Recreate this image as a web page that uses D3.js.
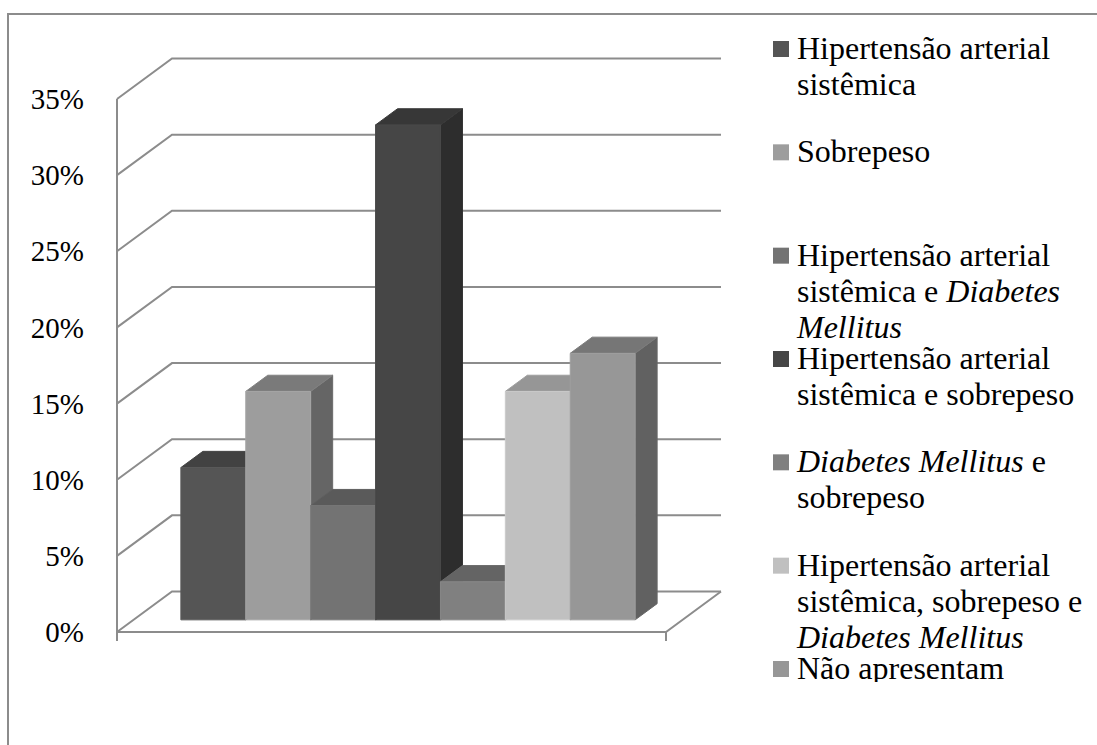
<!DOCTYPE html>
<html>
<head>
<meta charset="utf-8">
<script src="https://cdn.jsdelivr.net/npm/d3@7"></script>
<style>
  body { margin: 0; background: #fff; }
  svg { display: block; }
  svg text { font-family: "Liberation Serif", Tinos, "Times New Roman", Times, "DejaVu Serif", serif; fill: #000; }
</style>
</head>
<body>
<svg id="chart" width="1097" height="745"></svg>
<script>
// Categories ("|" = line break in the legend, *...* = italic)
const categories = [
  "Hipertensão arterial|sistêmica",
  "Sobrepeso",
  "Hipertensão arterial|sistêmica e *Diabetes*|*Mellitus*",
  "Hipertensão arterial|sistêmica e sobrepeso",
  "*Diabetes Mellitus* e|sobrepeso",
  "Hipertensão arterial|sistêmica, sobrepeso e|*Diabetes Mellitus*",
  "Não apresentam"
];
const values = [0.10, 0.15, 0.075, 0.325, 0.025, 0.15, 0.175];
const colors = ["#555555", "#9d9d9d", "#737373", "#464646", "#808080", "#c0c0c0", "#979797"];
const yTicks = [0, 0.05, 0.10, 0.15, 0.20, 0.25, 0.30, 0.35];
const tickLabels = ["0%", "5%", "10%", "15%", "20%", "25%", "30%", "35%"];

const svg = d3.select("#chart");
const gridColor = "#8c8c8c";
const serif = '"Liberation Serif", Tinos, "Times New Roman", Times, "DejaVu Serif", serif';

// Oblique 3D projection: depth z in [0,1] shifts right and up
const DX = 55, DY = -40.5;
const x = d3.scaleBand().domain(categories).range([117, 666]).paddingInner(0).paddingOuter(0.73);
const y = d3.scaleLinear().domain([0, 0.35]).range([632, 99]);
const P = (px, v, z) => [px + z * DX, y(v) + z * DY];
const poly = pts => "M" + pts.map(p => p.join(",")).join("L") + "Z";

// Outer frame
svg.append("rect")
  .attr("x", 8).attr("y", 14).attr("width", 1300).attr("height", 1000)
  .attr("fill", "none").attr("stroke", gridColor).attr("stroke-width", 2);

// Walls: side-wall diagonals and back-wall gridlines
const grid = svg.append("g").attr("fill", "none").attr("stroke", gridColor).attr("stroke-width", 2);
const [xl, xr] = x.range();
yTicks.forEach(t => {
  const a = P(xl, t, 0), b = P(xl, t, 1), c = P(xr, t, 1);
  grid.append("path").attr("d", `M${a}L${b}L${c}`);
});
// Vertical axis and floor
grid.append("path").attr("d", `M${P(xl, 0.35, 0)}L${xl},${y(0) + 9}`);
grid.append("path").attr("d", `M${P(xl, 0, 0)}L${P(xr, 0, 0)}L${P(xr, 0, 1)}`);
grid.append("path").attr("d", `M${xr},${y(0)}L${xr},${y(0) + 9}`);

// Y tick labels
svg.append("g").selectAll("text").data(yTicks).join("text")
  .attr("x", 84).attr("y", d => y(d)).attr("dy", "0.35em")
  .attr("text-anchor", "end").attr("font-size", 29)
  .style("font-family", serif)
  .text((d, i) => tickLabels[i]);

// 3D bars, drawn left to right so each front face covers the previous side
const z0 = 0.3, z1 = 0.7;
const bars = svg.append("g");
categories.forEach((c, i) => {
  const v = values[i], x0 = x(c), x1 = x0 + x.bandwidth();
  const base = d3.rgb(colors[i]);
  const g = bars.append("g").attr("stroke-width", 1).attr("stroke-linejoin", "round");
  g.append("path")
    .attr("d", poly([P(x1, 0, z0), P(x1, 0, z1), P(x1, v, z1), P(x1, v, z0)]))
    .attr("fill", base.darker(1.25)).attr("stroke", base.darker(1.1));
  g.append("path")
    .attr("d", poly([P(x0, v, z0), P(x1, v, z0), P(x1, v, z1), P(x0, v, z1)]))
    .attr("fill", base.darker(0.7)).attr("stroke", base.darker(0.55));
  g.append("path")
    .attr("d", poly([P(x0, 0, z0), P(x1, 0, z0), P(x1, v, z0), P(x0, v, z0)]))
    .attr("fill", base).attr("stroke", base.brighter(0.15));
});

// Legend
svg.append("clipPath").attr("id", "legend-clip")
  .append("rect").attr("x", 0).attr("y", 0).attr("width", 1097).attr("height", 682);
const legend = svg.append("g").attr("clip-path", "url(#legend-clip)");
const ly = d3.scaleLinear().domain([0, categories.length - 1]).range([59, 679]);
categories.forEach((c, i) => {
  const by = ly(i);
  legend.append("rect")
    .attr("x", 773).attr("y", by - 18).attr("width", 16).attr("height", 16)
    .attr("fill", colors[i]);
  c.split("|").forEach((line, j) => {
    const t = legend.append("text").attr("x", 797).attr("y", by + j * 36)
      .attr("font-size", 32).style("font-family", serif);
    line.split("*").forEach((seg, k) => {
      if (!seg) return;
      t.append("tspan").attr("font-style", k % 2 ? "italic" : "normal").text(seg);
    });
  });
});
</script>
</body>
</html>
